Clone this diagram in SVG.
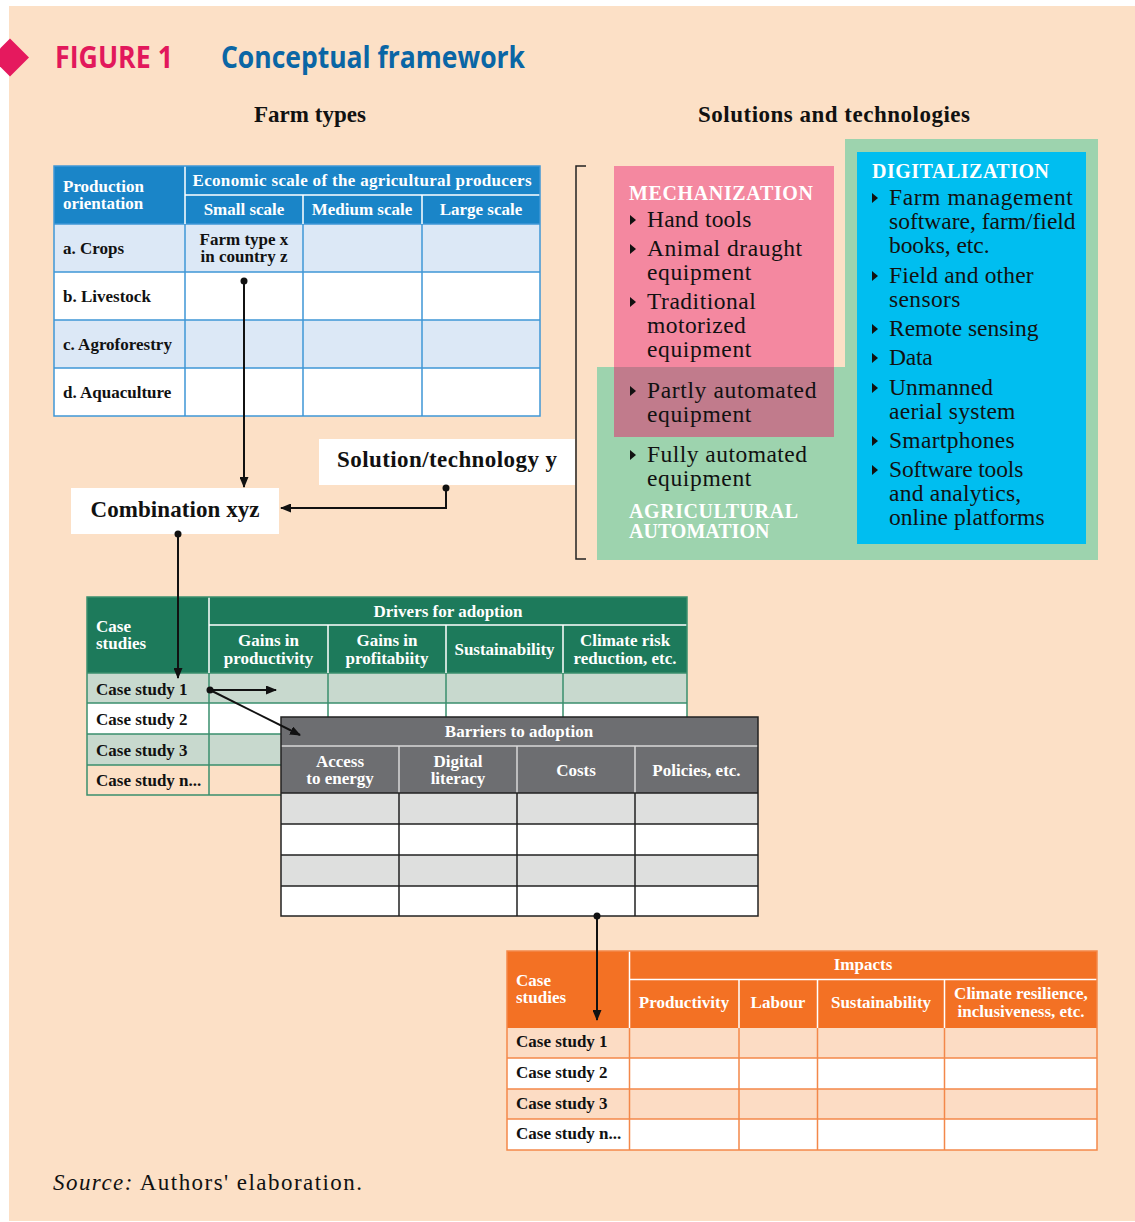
<svg xmlns="http://www.w3.org/2000/svg" width="1135" height="1222" viewBox="0 0 1135 1222">
<style>
.s{font-family:"Liberation Serif",serif}
.t{font-family:"Liberation Serif",serif;font-weight:bold;font-size:17px}
.w{fill:#fff}
.k{fill:#111}
.m{text-anchor:middle}
.bl{font-family:"Liberation Serif",serif;font-size:23.5px;fill:#111}
.hd{font-family:"Liberation Serif",serif;font-weight:bold;font-size:20px;fill:#fff}
.big{font-family:"Liberation Serif",serif;font-weight:bold;font-size:23px;fill:#111}
.gb{stroke:#3f97d6;stroke-width:1.5;fill:none}
.gg{stroke:#3a8f6d;stroke-width:1.5;fill:none}
.gk{stroke:#222;stroke-width:1.5;fill:none}
.go{stroke:#f3884a;stroke-width:1.5;fill:none}
.hw{stroke:#fff;stroke-width:1.5;fill:none}
.hl{stroke:#d8d8d8;stroke-width:1.5;fill:none}
.cn{stroke:#111;stroke-width:2;fill:none}
</style>
<defs>
<path id="bul" d="M0,0L6,5L0,10Z" fill="#111"/>
<marker id="ah" markerWidth="11" markerHeight="9" refX="10" refY="4.5" orient="auto" markerUnits="userSpaceOnUse"><path d="M0,0L11,4.5L0,9Z" fill="#111"/></marker>
</defs>
<rect x="0" y="0" width="1135" height="1222" fill="#fff"/>
<rect x="9" y="6" width="1126" height="1215" fill="#fce0c6"/>
<g id="title">
<path d="M10,38.5L29,57.5L10,76.5L-9,57.5Z" fill="#e5195e"/>
<text x="55" y="68" font-family="'Open Sans',sans-serif" font-weight="700" font-size="31" fill="#e2185b" textLength="118" lengthAdjust="spacingAndGlyphs">FIGURE 1</text>
<text x="221" y="68" font-family="'Open Sans',sans-serif" font-weight="700" font-size="31" fill="#0a66a5" textLength="304" lengthAdjust="spacingAndGlyphs">Conceptual framework</text>
<text x="310" y="122" class="big m" font-size="22" textLength="112">Farm types</text>
<text x="834" y="122" class="big m" font-size="22" textLength="272">Solutions and technologies</text>
</g>
<g id="farm-table">
<rect x="54" y="166" width="486" height="58" fill="#1a85c8"/>
<rect x="54" y="224" width="486" height="48" fill="#dce8f6"/>
<rect x="54" y="272" width="486" height="48" fill="#fff"/>
<rect x="54" y="320" width="486" height="48" fill="#dce8f6"/>
<rect x="54" y="368" width="486" height="48" fill="#fff"/>
<path class="gb" d="M185,224V416M303,224V416M422,224V416M54,272H540M54,320H540M54,368H540M54,224H540"/>
<path class="hw" d="M185,166V224M185,195H540M303,195V224M422,195V224"/>
<rect class="gb" x="54" y="166" width="486" height="250"/>
<text class="t w" x="63" y="192">Production</text>
<text class="t w" x="63" y="209">orientation</text>
<text class="t w m" x="362" y="186" textLength="339">Economic scale of the agricultural producers</text>
<text class="t w m" x="244" y="215">Small scale</text>
<text class="t w m" x="362" y="215">Medium scale</text>
<text class="t w m" x="481" y="215">Large scale</text>
<text class="t k" x="63" y="254">a. Crops</text>
<text class="t k" x="63" y="302">b. Livestock</text>
<text class="t k" x="63" y="350">c. Agroforestry</text>
<text class="t k" x="63" y="398">d. Aquaculture</text>
<text class="t k m" x="244" y="245">Farm type x</text>
<text class="t k m" x="244" y="262">in country z</text>
</g>
<g id="solutions">
<path d="M586,166H576V559H586" stroke="#222" stroke-width="1.5" fill="none"/>
<path d="M845,139H1098V560H597V367H845Z" fill="#9dd3ae"/>
<rect x="614" y="166" width="220" height="201" fill="#f488a0"/>
<rect x="614" y="367" width="220" height="70" fill="#c17b8c"/>
<rect x="857" y="152" width="229" height="392" fill="#00bef0"/>
<text class="hd" x="629" y="200" textLength="184">MECHANIZATION</text>
<use href="#bul" x="630" y="215"/><text class="bl" x="647" y="227" textLength="104.5">Hand tools</text>
<use href="#bul" x="630" y="244"/><text class="bl" x="647" y="256" textLength="155">Animal draught</text>
<text class="bl" x="647" y="280" textLength="104.3">equipment</text>
<use href="#bul" x="630" y="297"/><text class="bl" x="647" y="309" textLength="108.8">Traditional</text>
<text class="bl" x="647" y="333" textLength="98.8">motorized</text>
<text class="bl" x="647" y="357" textLength="104.3">equipment</text>
<use href="#bul" x="630" y="386"/><text class="bl" x="647" y="398" textLength="169.4">Partly automated</text>
<text class="bl" x="647" y="422" textLength="104.3">equipment</text>
<use href="#bul" x="630" y="450"/><text class="bl" x="647" y="462" textLength="160">Fully automated</text>
<text class="bl" x="647" y="486" textLength="104.3">equipment</text>
<text class="hd" x="629" y="518" textLength="169">AGRICULTURAL</text>
<text class="hd" x="629" y="538">AUTOMATION</text>
<text class="hd" x="872" y="178" textLength="177">DIGITALIZATION</text>
<use href="#bul" x="872" y="193"/><text class="bl" x="889" y="205" textLength="183.9">Farm management</text>
<text class="bl" x="889" y="229" textLength="186.6">software, farm/field</text>
<text class="bl" x="889" y="253" textLength="100.5">books, etc.</text>
<use href="#bul" x="872" y="271"/><text class="bl" x="889" y="283" textLength="144.6">Field and other</text>
<text class="bl" x="889" y="307" textLength="71.3">sensors</text>
<use href="#bul" x="872" y="324"/><text class="bl" x="889" y="336" textLength="149.4">Remote sensing</text>
<use href="#bul" x="872" y="353"/><text class="bl" x="889" y="365" textLength="43.7">Data</text>
<use href="#bul" x="872" y="383"/><text class="bl" x="889" y="395" textLength="104">Unmanned</text>
<text class="bl" x="889" y="419" textLength="126.4">aerial system</text>
<use href="#bul" x="872" y="436"/><text class="bl" x="889" y="448" textLength="125.7">Smartphones</text>
<use href="#bul" x="872" y="465"/><text class="bl" x="889" y="477" textLength="134.3">Software tools</text>
<text class="bl" x="889" y="501" textLength="132.2">and analytics,</text>
<text class="bl" x="889" y="525" textLength="155.6">online platforms</text>
</g>
<g id="solution-box">
<rect x="319" y="439" width="256" height="46" fill="#fff"/>
<text class="big m" x="447" y="467" textLength="220">Solution/technology y</text>
</g>
<g id="combination-box">
<rect x="71" y="488" width="208" height="46" fill="#fff"/>
<text class="big m" x="175" y="517" textLength="169">Combination xyz</text>
</g>
<g id="drivers-table">
<rect x="87" y="597" width="600" height="76" fill="#1d7a5b"/>
<rect x="87" y="673" width="600" height="30" fill="#c8d9ce"/>
<rect x="87" y="703" width="600" height="31" fill="#fff"/>
<rect x="87" y="734" width="600" height="31" fill="#c8d9ce"/>
<rect x="87" y="765" width="600" height="30" fill="#fce0c6"/>
<path class="gg" d="M209,673V795M328,673V795M446,673V795M563,673V795M87,703H687M87,734H687M87,765H687M87,673H687"/>
<path class="hw" d="M209,597V673M209,625H687M328,625V673M446,625V673M563,625V673"/>
<rect class="gg" x="87" y="597" width="600" height="198"/>
<text class="t w" x="96" y="632">Case</text>
<text class="t w" x="96" y="649">studies</text>
<text class="t w m" x="448" y="617">Drivers for adoption</text>
<text class="t w m" x="268.5" y="646">Gains in</text>
<text class="t w m" x="268.5" y="664">productivity</text>
<text class="t w m" x="387" y="646">Gains in</text>
<text class="t w m" x="387" y="664">profitabiity</text>
<text class="t w m" x="504.5" y="655">Sustainability</text>
<text class="t w m" x="625" y="646">Climate risk</text>
<text class="t w m" x="625" y="664">reduction, etc.</text>
<text class="t k" x="96" y="695">Case study 1</text>
<text class="t k" x="96" y="725">Case study 2</text>
<text class="t k" x="96" y="756">Case study 3</text>
<text class="t k" x="96" y="786">Case study n...</text>
</g>
<g id="barriers-table">
<rect x="281" y="717" width="477" height="76" fill="#6d6e71"/>
<rect x="281" y="793" width="477" height="31" fill="#dedfde"/>
<rect x="281" y="824" width="477" height="31" fill="#fff"/>
<rect x="281" y="855" width="477" height="31" fill="#dedfde"/>
<rect x="281" y="886" width="477" height="30" fill="#fff"/>
<path class="hl" d="M281,746H758M399,746V793M517,746V793M635,746V793"/>
<path class="gk" d="M399,793V916M517,793V916M635,793V916M281,793H758M281,824H758M281,855H758M281,886H758"/>
<rect class="gk" x="281" y="717" width="477" height="199"/>
<text class="t w m" x="519" y="737">Barriers to adoption</text>
<text class="t w m" x="340" y="767">Access</text>
<text class="t w m" x="340" y="784">to energy</text>
<text class="t w m" x="458" y="767">Digital</text>
<text class="t w m" x="458" y="784">literacy</text>
<text class="t w m" x="576" y="776">Costs</text>
<text class="t w m" x="696.5" y="776">Policies, etc.</text>
</g>
<g id="impacts-table">
<rect x="507" y="951" width="590" height="77" fill="#f37124"/>
<rect x="507" y="1028" width="590" height="30" fill="#fcdcc4"/>
<rect x="507" y="1058" width="590" height="31" fill="#fff"/>
<rect x="507" y="1089" width="590" height="30" fill="#fcdcc4"/>
<rect x="507" y="1119" width="590" height="31" fill="#fff"/>
<path class="go" d="M629.5,1028V1150M739,1028V1150M817.5,1028V1150M944.5,1028V1150M507,1058H1097M507,1089H1097M507,1119H1097"/>
<path class="hw" d="M629.5,951V1028M629.5,979.5H1097M739,979.5V1028M817.5,979.5V1028M944.5,979.5V1028"/>
<rect class="go" x="507" y="951" width="590" height="199"/>
<text class="t w" x="516" y="986">Case</text>
<text class="t w" x="516" y="1003">studies</text>
<text class="t w m" x="863" y="970">Impacts</text>
<text class="t w m" x="684" y="1008">Productivity</text>
<text class="t w m" x="778" y="1008">Labour</text>
<text class="t w m" x="881" y="1008">Sustainability</text>
<text class="t w m" x="1021" y="999">Climate resilience,</text>
<text class="t w m" x="1021" y="1017">inclusiveness, etc.</text>
<text class="t k" x="516" y="1047">Case study 1</text>
<text class="t k" x="516" y="1078">Case study 2</text>
<text class="t k" x="516" y="1109">Case study 3</text>
<text class="t k" x="516" y="1139">Case study n...</text>
</g>
<g id="connectors">
<circle cx="244" cy="281" r="3.5" fill="#111"/>
<path class="cn" d="M244,281V487" marker-end="url(#ah)"/>
<circle cx="446" cy="488" r="3.5" fill="#111"/>
<path class="cn" d="M446,488V508H281" marker-end="url(#ah)"/>
<circle cx="178" cy="534" r="3.5" fill="#111"/>
<path class="cn" d="M178,534V678" marker-end="url(#ah)"/>
<circle cx="210" cy="690" r="3.5" fill="#111"/>
<path class="cn" d="M210,690H276" marker-end="url(#ah)"/>
<path class="cn" d="M210,690L300,735" marker-end="url(#ah)"/>
<circle cx="597" cy="916" r="3.5" fill="#111"/>
<path class="cn" d="M597,916V1020" marker-end="url(#ah)"/>
</g>
<text class="s" x="53" y="1190" font-size="23" fill="#111" textLength="309"><tspan font-style="italic">Source:</tspan> Authors' elaboration.</text>
</svg>
